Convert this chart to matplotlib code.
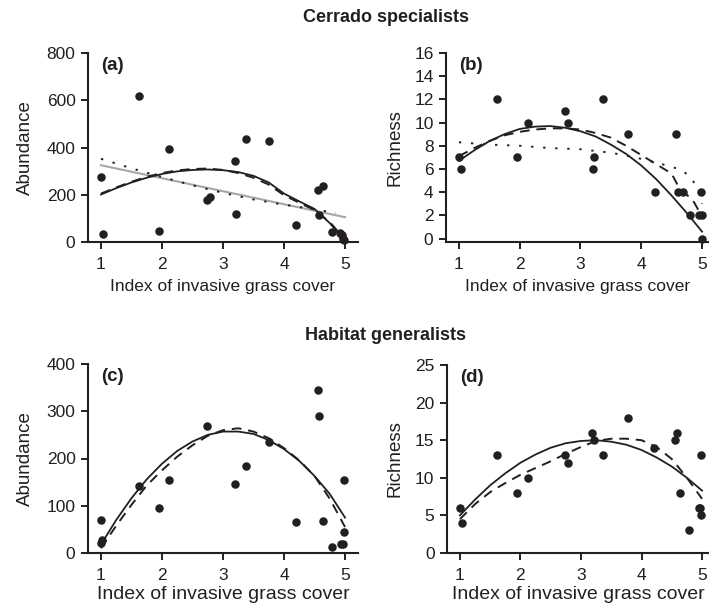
import numpy as np
import matplotlib
matplotlib.use("Agg")
import matplotlib.pyplot as plt

plt.rcParams['font.family'] = ['Liberation Sans', 'DejaVu Sans']
INK = '#231f20'
plt.rcParams['text.color'] = INK
plt.rcParams['axes.labelcolor'] = INK
plt.rcParams['xtick.color'] = INK
plt.rcParams['ytick.color'] = INK

# ---- (a) Cerrado specialists, abundance ----
a_x = [1.0, 1.04, 1.62, 1.95, 2.12, 2.74, 2.79, 3.19, 3.21, 3.37, 3.76, 4.20,
       4.56, 4.64, 4.58, 4.78, 4.92, 4.95, 4.97, 4.99]
a_y = [276, 35, 619, 47, 392, 177, 191, 343, 117, 438, 426, 74,
       218, 235, 113, 44, 38, 28, 14, 7]
a_solid_x = [1.0, 1.25, 1.5, 1.75, 2.0, 2.25, 2.5, 2.75, 3.0, 3.25, 3.5, 3.75,
             4.0, 4.25, 4.5, 4.75, 4.9, 5.0]
a_solid_y = [201, 228, 252, 272, 288, 299, 305, 307, 304, 296, 280, 252,
             205, 172, 140, 80, 35, 0]
a_dash_x = a_solid_x
a_dash_y = [205, 231, 255, 276, 292, 303, 309, 311, 305, 292, 272, 243,
            198, 166, 135, 85, 40, 8]
a_dot_x = [1.0, 1.5, 2.0, 2.5, 3.0, 3.5, 4.0, 4.5, 4.85]
a_dot_y = [352, 312, 275, 240, 208, 180, 158, 138, 123]
a_grey_x = [1.0, 5.0]
a_grey_y = [325, 105]

# ---- (b) Cerrado specialists, richness ----
b_x = [1.0, 1.03, 1.62, 1.95, 2.13, 2.75, 2.79, 3.20, 3.22, 3.37, 3.78, 4.22,
       4.58, 4.60, 4.68, 4.80, 4.98, 4.95, 5.0, 5.0]
b_y = [7, 6, 12, 7, 10, 11, 10, 6, 7, 12, 9, 4,
       9, 4, 4, 2, 4, 2, 2, 0]
b_solid_x = [1.0, 1.25, 1.5, 1.75, 2.0, 2.25, 2.5, 2.75, 3.0, 3.25, 3.5, 3.75,
             4.0, 4.25, 4.5, 4.75, 5.0]
b_solid_y = [6.7, 7.6, 8.4, 9.0, 9.45, 9.65, 9.7, 9.55, 9.25, 8.8, 8.1, 7.3,
             6.3, 5.1, 3.7, 2.2, 0.6]
b_dash_x = [1.0, 1.25, 1.5, 1.75, 2.0, 2.25, 2.5, 2.75, 3.0, 3.25, 3.5, 3.75,
            4.0, 4.25, 4.5, 4.6, 4.7, 4.85, 5.0]
b_dash_y = [7.1, 7.8, 8.4, 8.9, 9.2, 9.4, 9.5, 9.5, 9.4, 9.1, 8.7, 8.0,
            7.2, 6.4, 5.6, 4.6, 4.0, 3.3, 1.9]
b_dot_x = [1.0, 1.5, 2.0, 2.5, 3.0, 3.5, 3.9, 4.2, 4.5, 4.7, 4.85, 4.95, 5.0]
b_dot_y = [8.3, 8.1, 8.0, 7.8, 7.7, 7.4, 7.0, 6.6, 6.2, 5.8, 5.0, 4.0, 3.0]

# ---- (c) Habitat generalists, abundance ----
c_x = [1.0, 1.0, 1.02, 1.62, 1.95, 2.12, 2.74, 3.19, 3.37, 3.76, 4.20, 4.56,
       4.58, 4.64, 4.78, 4.93, 4.96, 4.98, 4.98]
c_y = [70, 22, 27, 142, 96, 155, 269, 146, 185, 235, 65, 344,
       290, 67, 13, 18, 18, 45, 154]
c_solid_x = [1.0, 1.25, 1.5, 1.75, 2.0, 2.25, 2.5, 2.75, 3.0, 3.25, 3.5, 3.75,
             4.0, 4.25, 4.5, 4.75, 5.0]
c_solid_y = [18, 70, 116, 156, 189, 216, 236, 250, 257, 257, 252, 239,
             220, 195, 163, 125, 75]
c_dash_x = [1.0, 1.25, 1.5, 1.75, 2.0, 2.25, 2.5, 2.75, 3.0, 3.25, 3.5, 3.75,
            4.0, 4.25, 4.5, 4.75, 5.0]
c_dash_y = [10, 58, 102, 143, 175, 204, 228, 248, 260, 264, 257, 243,
            222, 196, 163, 115, 55]

# ---- (d) Habitat generalists, richness ----
d_x = [1.0, 1.04, 1.62, 1.95, 2.13, 2.74, 2.79, 3.19, 3.21, 3.37, 3.77, 4.21,
       4.56, 4.59, 4.64, 4.79, 4.95, 4.97, 4.98, 4.99]
d_y = [6, 4, 13, 8, 10, 13, 12, 16, 15, 13, 18, 14,
       15, 16, 8, 3, 6, 6, 5, 13]
d_solid_x = [1.0, 1.25, 1.5, 1.75, 2.0, 2.25, 2.5, 2.75, 3.0, 3.25, 3.5, 3.75,
             4.0, 4.25, 4.5, 4.75, 5.0]
d_solid_y = [5.0, 7.1, 9.0, 10.6, 12.0, 13.1, 14.0, 14.6, 14.9, 15.0, 14.8, 14.4,
             13.7, 12.7, 11.5, 10.0, 8.3]
d_dash_x = [1.0, 1.25, 1.5, 1.75, 2.0, 2.25, 2.5, 2.75, 3.0, 3.25, 3.5, 3.75,
            4.0, 4.25, 4.5, 4.75, 5.0]
d_dash_y = [4.5, 6.5, 8.1, 9.3, 10.4, 11.3, 12.2, 13.2, 14.1, 14.9, 15.2, 15.2,
            15.0, 14.1, 12.5, 10.0, 7.2]

x_ticks = [1, 2, 3, 4, 5]

fig = plt.figure(figsize=(7.09, 6.09), dpi=100)
W, H = 709, 609


def make_ax(l, r, t, b):
    return fig.add_axes([l / W, 1 - b / H, (r - l) / W, (b - t) / H])


ax_a = make_ax(88, 358, 53, 242)
ax_b = make_ax(446, 709, 53, 242)
ax_c = make_ax(88, 358, 364, 553)
ax_d = make_ax(447, 709, 365, 553)

DASH = (0, (5, 3.5))
DOT = (0, (1.2, 5))


def style(ax, letter, ylabel, ylim, yticks, xlabel_size, xpad, xlim_right, ylab_x):
    for s in ['top', 'right']:
        ax.spines[s].set_visible(False)
    for s in ['left', 'bottom']:
        ax.spines[s].set_linewidth(1.5)
        ax.spines[s].set_color(INK)
    ax.set_xlim(0.787, xlim_right)
    ax.set_ylim(*ylim)
    ax.set_xticks(x_ticks)
    ax.set_yticks(yticks)
    ax.tick_params(direction='out', length=5, width=1.4, labelsize=12.5, pad=4)
    ax.tick_params(axis='x', pad=6)
    ax.set_ylabel(ylabel, fontsize=13.5)
    ax.yaxis.set_label_coords(ylab_x, 0.5)
    ax.set_xlabel('Index of invasive grass cover', fontsize=xlabel_size, labelpad=xpad)
    ax.text(0.05, 0.98, letter, transform=ax.transAxes, fontsize=13.5,
            fontweight='bold', va='top', ha='left')


# (a)
ax_a.plot(a_grey_x, a_grey_y, color='#a6a6a6', lw=1.5)
ax_a.plot(a_dot_x, a_dot_y, color=INK, lw=1.4, linestyle=DOT)
ax_a.plot(a_dash_x, a_dash_y, color=INK, lw=1.4, linestyle=DASH)
ax_a.plot(a_solid_x, a_solid_y, color=INK, lw=1.3)
ax_a.scatter(a_x, a_y, s=26, color=INK, zorder=3, clip_on=False)
style(ax_a, '(a)', 'Abundance', (0, 800), [0, 200, 400, 600, 800], 12.5, 5,
      5.213, -0.2)

# (b)
ax_b.plot(b_dot_x, b_dot_y, color=INK, lw=1.4, linestyle=DOT)
ax_b.plot(b_dash_x, b_dash_y, color=INK, lw=1.4, linestyle=DASH)
ax_b.plot(b_solid_x, b_solid_y, color=INK, lw=1.3)
ax_b.scatter(b_x, b_y, s=26, color=INK, zorder=3, clip_on=False)
style(ax_b, '(b)', 'Richness', (-0.3, 16), list(range(0, 17, 2)), 12.5, 5,
      5.115, -0.163)

# (c)
ax_c.plot(c_dash_x, c_dash_y, color=INK, lw=1.4, linestyle=DASH)
ax_c.plot(c_solid_x, c_solid_y, color=INK, lw=1.3)
ax_c.scatter(c_x, c_y, s=26, color=INK, zorder=3, clip_on=False)
style(ax_c, '(c)', 'Abundance', (0, 400), [0, 100, 200, 300, 400], 14, 2,
      5.213, -0.2)

# (d)
ax_d.plot(d_dash_x, d_dash_y, color=INK, lw=1.4, linestyle=DASH)
ax_d.plot(d_solid_x, d_solid_y, color=INK, lw=1.3)
ax_d.scatter(d_x, d_y, s=26, color=INK, zorder=3, clip_on=False)
style(ax_d, '(d)', 'Richness', (0, 25), [0, 5, 10, 15, 20, 25], 14, 2,
      5.115, -0.165)

fig.text(386 / W, 1 - 17 / H, 'Cerrado specialists', fontsize=13, fontweight='bold',
         ha='center', va='center')
fig.text(385 / W, 1 - 335 / H, 'Habitat generalists', fontsize=13, fontweight='bold',
         ha='center', va='center')

fig.savefig('out.png', dpi=100)
